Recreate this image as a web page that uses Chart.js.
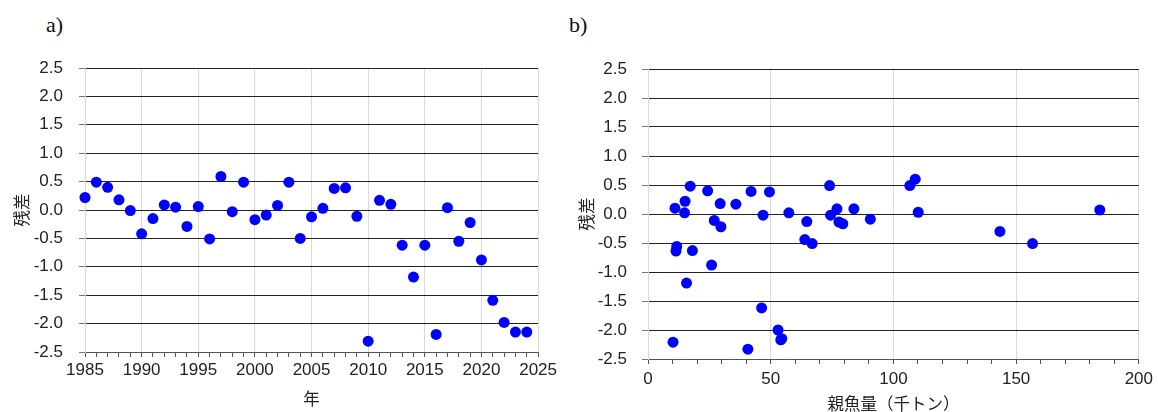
<!DOCTYPE html>
<html lang="ja">
<head>
<meta charset="UTF-8">
<title>残差</title>
<script src="https://cdn.jsdelivr.net/npm/chart.js"></script>
<style>
    body {
        margin: 0;
        background: #fff;
        width: 1158px;
        height: 412px;
        position: relative;
        overflow: hidden;
    }
    .panel {
        position: absolute;
        top: 0;
    }
    .tag {
        position: absolute;
        top: 12px;
        font-family: 'Liberation Serif', 'Times New Roman', serif;
        font-size: 22px;
        color: #111;
    }
</style>
</head>
<body>
<div class="tag" style="left:46px">a)</div>
<div class="tag" style="left:569px">b)</div>
<div class="panel" style="left:0"><canvas id="chartA" width="560" height="412"></canvas></div>
<div class="panel" style="left:560px"><canvas id="chartB" width="598" height="412"></canvas></div>

<script>
    // a) residuals by year
    const years = [];
    for (let y = 1985; y <= 2024; y++) years.push(y);
    const residByYear = [0.22, 0.49, 0.40, 0.18, -0.01, -0.42, -0.15, 0.09, 0.05, -0.29,
        0.06, -0.51, 0.59, -0.03, 0.49, -0.17, -0.09, 0.08, 0.49, -0.50,
        -0.12, 0.03, 0.38, 0.39, -0.11, -2.31, 0.17, 0.10, -0.62, -1.18,
        -0.62, -2.19, 0.04, -0.55, -0.22, -0.88, -1.59, -1.98, -2.15, -2.15];

    // b) residuals against spawning stock biomass (thousand t)
    const ssb = [11.0, 10.2, 11.7, 11.4, 15.1, 14.9, 15.7, 17.2, 18.1, 24.3,
        25.9, 27.0, 29.4, 29.7, 35.8, 40.7, 42.0, 46.3, 46.9, 49.5,
        53.0, 54.1, 54.5, 57.4, 63.9, 64.7, 66.9, 74.0, 74.4, 77.0,
        77.8, 79.4, 83.9, 90.6, 106.7, 108.9, 110.1, 143.4, 156.7, 184.1];
    const residBySsb = [0.10, -2.21, -0.56, -0.64, 0.22, 0.02, -1.19, 0.48, -0.63, 0.40,
        -0.88, -0.11, 0.18, -0.22, 0.17, -2.33, 0.39, -1.62, -0.02, 0.38,
        -2.00, -2.17, -2.15, 0.02, -0.44, -0.13, -0.51, 0.49, -0.02, 0.09,
        -0.14, -0.17, 0.09, -0.09, 0.49, 0.60, 0.03, -0.30, -0.51, 0.07];

    const yTicks = { min: -2.5, max: 2.5, step: 0.5 };

    const tickFont = { family: "'Liberation Sans', Arial, sans-serif", size: 17 };
    const titleFont = { family: "'Noto Sans CJK JP', sans-serif", size: 16.5, lineHeight: 1 };

    function makeChart(id, pts, opt) {
        return new Chart(document.getElementById(id), {
            type: 'scatter',
            data: {
                datasets: [{
                    data: pts,
                    backgroundColor: '#0000ff',
                    borderWidth: 0,
                    pointRadius: 5.5,
                    pointHoverRadius: 5.5,
                    clip: false
                }]
            },
            options: {
                responsive: false,
                animation: false,
                layout: { padding: opt.pad },
                plugins: { legend: { display: false }, tooltip: { enabled: false } },
                scales: {
                    x: {
                        type: 'linear',
                        min: opt.xMin,
                        max: opt.xMax,
                        afterFit: s => { s.height = opt.xH; },
                        ticks: {
                            stepSize: opt.xMinor,
                            autoSkip: false,
                            maxRotation: 0,
                            padding: opt.xTickPad,
                            color: '#222',
                            font: tickFont,
                            callback: v => (Math.round(v) % opt.xMajor === 0 ? String(v) : '')
                        },
                        grid: {
                            color: c => (c.tick && Math.round(c.tick.value) % opt.xMajor === 0 ? '#d9d9d9' : 'rgba(0,0,0,0)'),
                            tickColor: '#555',
                            tickLength: 5,
                            lineWidth: 1
                        },
                        border: { color: '#555', width: 1 },
                        title: {
                            display: true,
                            text: opt.xTitle,
                            color: '#222',
                            font: titleFont,
                            padding: { top: 0, bottom: opt.xTitlePad }
                        }
                    },
                    y: {
                        min: yTicks.min,
                        max: yTicks.max,
                        afterFit: s => { s.width = opt.yW; },
                        ticks: {
                            stepSize: yTicks.step,
                            padding: opt.yTickPad,
                            color: '#222',
                            font: tickFont,
                            callback: v => Number(v).toFixed(1)
                        },
                        grid: {
                            color: '#222',
                            tickColor: '#777',
                            tickLength: 6,
                            lineWidth: 1
                        },
                        border: { color: '#d9d9d9', width: 1 },
                        title: {
                            display: true,
                            text: '残差',
                            color: '#222',
                            font: titleFont,
                            padding: { top: 4, bottom: 0 }
                        }
                    }
                }
            }
        });
    }

    makeChart('chartA', years.map((x, i) => ({ x: x, y: residByYear[i] })), {
        pad: { left: 9, top: 68, right: 21, bottom: 0 },
        xMin: 1985, xMax: 2025, xMinor: 1, xMajor: 5,
        xH: 60, yW: 76, xTickPad: 3, yTickPad: 16,
        xTitle: '年', xTitlePad: 5.5
    });

    makeChart('chartB', ssb.map((x, i) => ({ x: x, y: residBySsb[i] })), {
        pad: { left: 14, top: 69, right: 15, bottom: 0 },
        xMin: 0, xMax: 200, xMinor: 10, xMajor: 50,
        xH: 53, yW: 74, xTickPad: 5, yTickPad: 15,
        xTitle: '親魚量（千トン）', xTitlePad: 0
    });
</script>
</body>
</html>
